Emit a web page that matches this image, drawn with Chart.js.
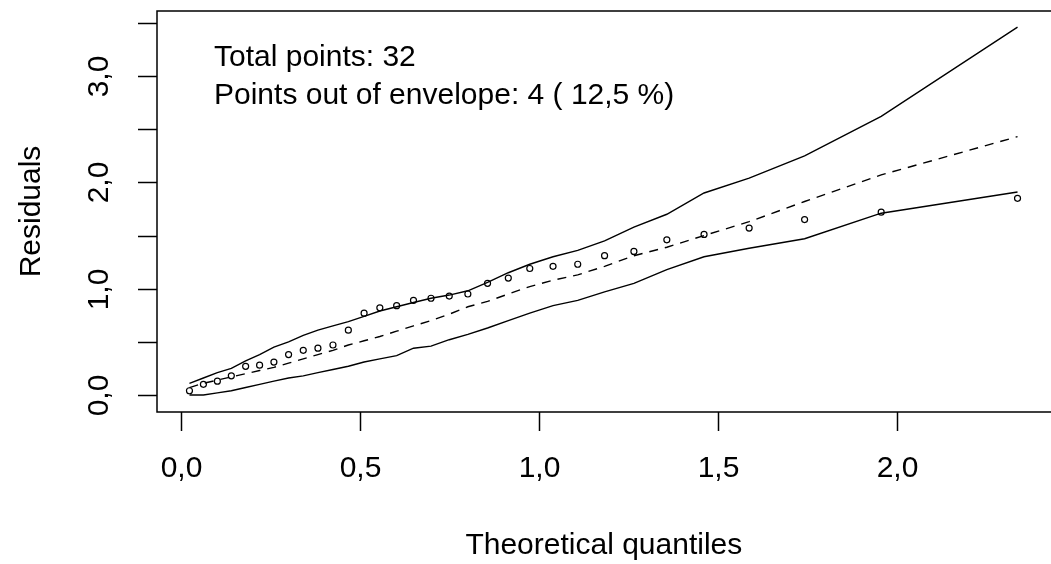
<!DOCTYPE html>
<html><head><meta charset="utf-8">
<script src="https://cdn.jsdelivr.net/npm/chart.js@4"></script>
<style>html,body{margin:0;padding:0;background:#fff;overflow:hidden}#wrap{width:1051px;height:564px;position:relative}</style>
</head><body><div id="wrap"><canvas id="c" width="1051" height="564"></canvas></div>
<script>
// Theoretical half-normal quantiles (x) and ordered absolute residuals (y)
const quantiles = [0.024,0.063,0.102,0.141,0.181,0.220,0.260,0.301,0.342,0.383,0.425,0.468,0.512,0.556,0.603,0.650,0.699,0.750,0.802,0.857,0.915,0.975,1.040,1.109,1.184,1.266,1.358,1.462,1.588,1.743,1.957,2.338];
const residuals = [0.04,0.10,0.13,0.18,0.27,0.28,0.31,0.38,0.42,0.44,0.47,0.61,0.77,0.82,0.84,0.89,0.91,0.93,0.95,1.05,1.10,1.19,1.21,1.23,1.31,1.35,1.46,1.51,1.57,1.65,1.72,1.85];
const lowerEnv  = [0.00,0.00,0.02,0.04,0.07,0.10,0.13,0.16,0.18,0.21,0.24,0.27,0.31,0.34,0.37,0.44,0.46,0.52,0.57,0.63,0.70,0.77,0.84,0.89,0.97,1.05,1.18,1.30,1.38,1.47,1.71,1.91];
const medianEnv = [0.07,0.11,0.14,0.17,0.20,0.23,0.26,0.30,0.34,0.38,0.42,0.47,0.51,0.55,0.60,0.65,0.70,0.76,0.83,0.88,0.95,1.02,1.08,1.13,1.21,1.31,1.39,1.50,1.63,1.82,2.07,2.43];
const upperEnv  = [0.11,0.16,0.21,0.25,0.32,0.38,0.45,0.50,0.56,0.61,0.65,0.69,0.74,0.79,0.83,0.87,0.91,0.94,0.98,1.06,1.15,1.23,1.30,1.36,1.45,1.58,1.70,1.90,2.04,2.25,2.62,3.46];
const xTicks = [0,0.5,1,1.5,2];
const xTickLabels = ['0,0','0,5','1,0','1,5','2,0'];
const yTicks = [0,0.5,1,1.5,2,2.5,3,3.5];
const yTickLabels = ['0,0','','1,0','','2,0','','3,0',''];
const xTitle = 'Theoretical quantiles';
const yTitle = 'Residuals';
const notes = ['Total points: 32','Points out of envelope: 4 ( 12,5 %)'];

const FONT = '30px "Liberation Sans", Arial, sans-serif';
const toXY = (ys) => quantiles.map((x,i)=>({x:x, y:ys[i]}));

const rAxes = {
  id:'rAxes',
  afterDraw(chart){
    const ctx = chart.ctx, a = chart.chartArea, sx = chart.scales.x, sy = chart.scales.y;
    ctx.save();
    ctx.strokeStyle = '#000'; ctx.lineWidth = 1.5; ctx.fillStyle = '#000';
    // box (its right side lies just beyond the canvas)
    ctx.beginPath();
    ctx.moveTo(a.right+20, a.top); ctx.lineTo(a.left, a.top); ctx.lineTo(a.left, a.bottom); ctx.lineTo(a.right+20, a.bottom);
    ctx.stroke();
    const TL = 19;
    ctx.font = FONT;
    xTicks.forEach((v,i)=>{
      const px = Math.round(sx.getPixelForValue(v))+0.5;
      ctx.beginPath(); ctx.moveTo(px, a.bottom); ctx.lineTo(px, a.bottom+TL); ctx.stroke();
      ctx.textAlign='center'; ctx.textBaseline='alphabetic';
      ctx.fillText(xTickLabels[i], px, 477);
    });
    yTicks.forEach((v,i)=>{
      const py = Math.round(sy.getPixelForValue(v))+0.5;
      ctx.beginPath(); ctx.moveTo(a.left, py); ctx.lineTo(a.left-TL, py); ctx.stroke();
      if (yTickLabels[i]) {
        ctx.save(); ctx.translate(108, py); ctx.rotate(-Math.PI/2);
        ctx.textAlign='center'; ctx.textBaseline='alphabetic';
        ctx.fillText(yTickLabels[i], 0, 0); ctx.restore();
      }
    });
    ctx.textAlign='center'; ctx.textBaseline='alphabetic';
    ctx.fillText(xTitle, (a.left + sx.getPixelForValue(2.4306))/2, 554);
    ctx.save(); ctx.translate(40, (a.top+a.bottom)/2); ctx.rotate(-Math.PI/2);
    ctx.fillText(yTitle, 0, 0); ctx.restore();
    ctx.textAlign='left';
    ctx.fillText(notes[0], 214, 66);
    ctx.fillText(notes[1], 214, 104);
    ctx.restore();
  }
};

new Chart(document.getElementById('c'), {
  type:'scatter',
  data:{ datasets:[
    {label:'upper', data:toXY(upperEnv), showLine:true, borderColor:'#000', borderWidth:1.4, pointRadius:0, fill:false, tension:0},
    {label:'median', data:toXY(medianEnv), showLine:true, borderColor:'#000', borderWidth:1.4, borderDash:[9,7], pointRadius:0, fill:false, tension:0},
    {label:'lower', data:toXY(lowerEnv), showLine:true, borderColor:'#000', borderWidth:1.4, pointRadius:0, fill:false, tension:0},
    {label:'residuals', data:toXY(residuals), showLine:false, pointStyle:'circle', pointRadius:3, pointBorderWidth:1.2, pointBorderColor:'#000', pointBackgroundColor:'rgba(0,0,0,0)'}
  ]},
  options:{
    responsive:false, animation:false, devicePixelRatio:1,
    layout:{padding:{left:157, top:11, right:0, bottom:152}},
    plugins:{legend:{display:false}, tooltip:{enabled:false}, title:{display:false}},
    scales:{
      x:{type:'linear', display:false, min:-0.0667, max:2.417},
      y:{type:'linear', display:false, min:-0.16, max:3.612}
    }
  },
  plugins:[rAxes]
});
</script></body></html>
